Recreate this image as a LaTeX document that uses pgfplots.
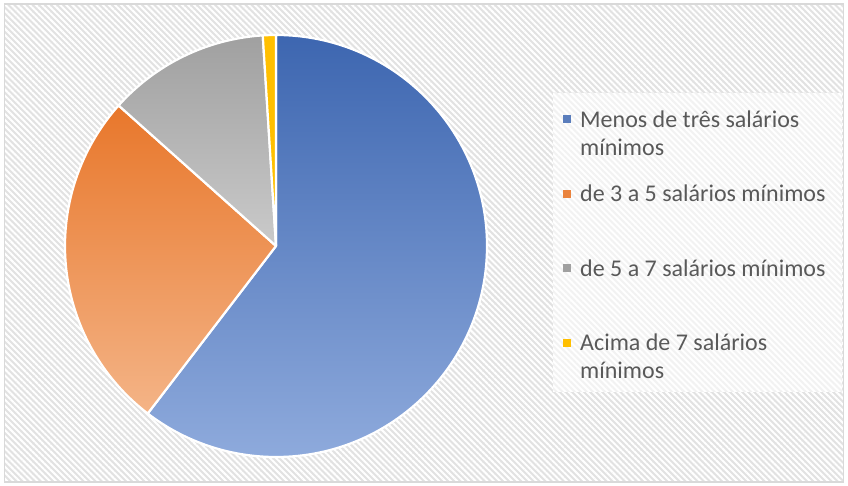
\documentclass[border=0pt]{standalone}
\usepackage{fontspec}
\setmainfont{Carlito}
\usepackage{pgfplots}
\usepackage{pgfplotstable}
\pgfplotsset{compat=1.18}
\usetikzlibrary{patterns.meta}
\definecolor{txtGray}{HTML}{595959}
\definecolor{frameGray}{HTML}{D9D9D9}
\definecolor{bgGray}{HTML}{E2E2E2}
\definecolor{blueTop}{HTML}{3D66B0}
\definecolor{blueBot}{HTML}{8EAADC}
\definecolor{orgTop}{HTML}{E8772B}
\definecolor{orgBot}{HTML}{F4B487}
\definecolor{grayTop}{HTML}{A0A0A0}
\definecolor{grayBot}{HTML}{CACACA}
\definecolor{yelTop}{HTML}{FFBF00}
\definecolor{yelBot}{HTML}{FFC000}

% share of each group, percent
\pgfplotstableread{
share
60.4
26.2
12.4
1.0
}\piedata

\pgfplotstablegetelem{0}{share}\of\piedata \let\sA\pgfplotsretval
\pgfplotstablegetelem{1}{share}\of\piedata \let\sB\pgfplotsretval
\pgfplotstablegetelem{2}{share}\of\piedata \let\sC\pgfplotsretval
\pgfplotstablegetelem{3}{share}\of\piedata \let\sD\pgfplotsretval
% angles, clockwise from 12 o'clock
\pgfmathsetmacro\aA{90}
\pgfmathsetmacro\aB{90-3.6*\sA}
\pgfmathsetmacro\aC{\aB-3.6*\sB}
\pgfmathsetmacro\aD{\aC-3.6*\sC}
\pgfmathsetmacro\aE{\aD-3.6*\sD}

\def\cx{276}
\def\cy{240}
\def\R{211}

\newcommand\slice[4]{%
  \path[top color=#3, bottom color=#4, draw=white, line width=2.2bp, line join=round]
    (axis cs:\cx,\cy) -- (axis cs:{\cx+\R*cos(#1)},{\cy+\R*sin(#1)})
    arc[start angle=#1, end angle=#2, radius=\R bp] -- cycle;}

\begin{document}
\begin{tikzpicture}
\begin{axis}[
  width=848bp, height=486bp, scale only axis,
  xmin=0, xmax=848, ymin=0, ymax=486,
  enlargelimits=false, hide axis, clip=false
]
% chart area
\fill[white] (axis cs:0,0) rectangle (axis cs:848,486);
\fill[bgGray] (axis cs:4.5,4) rectangle (axis cs:843.5,482);
\fill[pattern={Lines[angle=-45,distance=4.3bp,line width=2bp]}, pattern color=white]
  (axis cs:4.5,4) rectangle (axis cs:843.5,482);
\draw[frameGray, line width=1.2bp] (axis cs:4.5,4) rectangle (axis cs:843.5,482);

% slices
\slice{\aA}{\aB}{blueTop}{blueBot}
\slice{\aB}{\aC}{orgTop}{orgBot}
\slice{\aC}{\aD}{grayTop}{grayBot}
\slice{\aD}{\aE}{yelTop}{yelBot}

% legend
\fill[white] (axis cs:553,94) rectangle (axis cs:842,393);
\fill[pattern={Lines[angle=-45,distance=4.3bp,line width=2bp]}, pattern color=black!5]
  (axis cs:553,94) rectangle (axis cs:842,393);
\fill[blueTop!85!white] (axis cs:563,363) rectangle ++(8bp,8bp);
\fill[orgTop!80!orgBot] (axis cs:563,288) rectangle ++(8bp,8bp);
\fill[grayTop] (axis cs:563,214) rectangle ++(8bp,8bp);
\fill[yelTop] (axis cs:563,139) rectangle ++(8bp,8bp);
\begin{scope}[every node/.style={anchor=base west, inner sep=0pt, text=txtGray,
    font=\fontsize{24bp}{28bp}\selectfont, align=left}]
\node at (axis cs:580,330) {Menos de três salários\\mínimos};
\node at (axis cs:580,284) {de 3 a 5 salários mínimos};
\node at (axis cs:580,209) {de 5 a 7 salários mínimos};
\node at (axis cs:580,107) {Acima de 7 salários\\mínimos};
\end{scope}
\end{axis}
\end{tikzpicture}
\end{document}
